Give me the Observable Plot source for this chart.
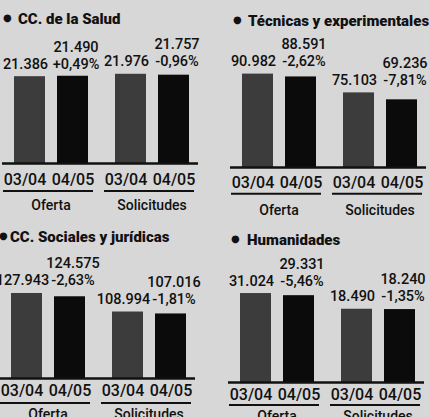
<!DOCTYPE html>
<html><head><meta charset="utf-8">
<script src="https://cdn.jsdelivr.net/npm/d3@7"></script>
<script src="https://cdn.jsdelivr.net/npm/@observablehq/plot@0.6"></script>
<style>
html,body{margin:0;padding:0;background:#d7d7d7;}
#wrap{position:relative;width:430px;height:417px;overflow:hidden;background:#d7d7d7;}
.panel{position:absolute;}
.title{position:absolute;font-family:Roboto,sans-serif;font-weight:900;font-size:15px;line-height:15px;color:#111;white-space:nowrap;}
.bullet{position:absolute;font-family:"DejaVu Sans",sans-serif;font-size:10px;line-height:10px;color:#111;}
</style></head><body><div id="wrap"></div>
<script>
// ---- data ----
const areas = ["CC. de la Salud", "Técnicas y experimentales", "CC. Sociales y jurídicas", "Humanidades"];
const groups = ["Oferta", "Solicitudes"];
const periods = ["03/04", "04/05"];
const oferta0304 = [21386, 90982, 127943, 31024];
const oferta0405 = [21490, 88591, 124575, 29331];
const solicitudes0304 = [21976, 75103, 108994, 18490];
const solicitudes0405 = [21757, 69236, 107016, 18240];
const pctOferta = [0.49, -2.62, -2.63, -5.46];
const pctSolicitudes = [-0.96, -7.81, -1.81, -1.35];

// ---- layout (per panel) ----
const panels = [
  {left:0,   top:0,   height:208, mL:13, mB:45, lo:0,      hi:30300,  tickDy:21, underDy:27.5, groupDy:46, titleX:18, titleBase:24.5, bulletX:3},
  {left:215, top:0,   height:208, mL:26, mB:41, lo:12000,  hi:119400, tickDy:20, underDy:26.3, groupDy:47.5, titleX:33, titleBase:27, bulletX:18},
  {left:0,   top:210, height:207, mL:10, mB:39, lo:41000,  hi:171900, tickDy:17.5, underDy:24.4, groupDy:40, titleX:10, titleBase:33, bulletX:-1},
  {left:215, top:210, height:207, mL:24, mB:35, lo:-40000, hi:65400,  tickDy:17.6, underDy:22.6, groupDy:38.5, titleX:32, titleBase:36, bulletX:16}
];

const locale = d3.formatLocale({decimal: ",", thousands: ".", grouping: [3], currency: ["", ""], minus: "-"});
const fmtN = locale.format(",");
const fmtP = locale.format("+.2f");

const wrap = document.getElementById("wrap");
const font = "Roboto, sans-serif";
const ink = "#111";

panels.forEach((P, i) => {
  const vals = {Oferta: [oferta0304[i], oferta0405[i]], Solicitudes: [solicitudes0304[i], solicitudes0405[i]]};
  const pcts = {Oferta: pctOferta[i], Solicitudes: pctSolicitudes[i]};
  const rows = [];
  groups.forEach(g => periods.forEach((p, j) => rows.push({group: g, period: p, value: vals[g][j], ref: vals[g][0], pct: j === 1 ? pcts[g] : null})));
  const first = rows.filter(d => d.period === periods[0]);
  const second = rows.filter(d => d.period === periods[1]);
  const groupRows = groups.map(g => ({group: g}));
  const lo = P.lo;
  const W = 215;
  const mR = W - P.mL - 176;
  const tw = 500;

  const chart = Plot.plot({
    width: W, height: P.height,
    marginLeft: P.mL, marginRight: mR, marginTop: 40, marginBottom: P.mB,
    style: {background: "transparent", overflow: "visible", fontFamily: font, color: ink},
    fx: {domain: groups, axis: null, paddingInner: 0.26, paddingOuter: 0},
    x: {domain: periods, axis: null, paddingInner: 0.28, paddingOuter: 0},
    y: {domain: [lo, P.hi], axis: null},
    color: {domain: periods, range: ["#3c3c3c", "#0b0b0b"]},
    marks: [
      Plot.barY(rows, {fx: "group", x: "period", y1: () => lo, y2: "value", fill: "period"}),
      Plot.ruleY(groupRows.filter(d => d.group === groups[0]), {fx: "group", y: () => lo, stroke: ink, strokeWidth: 2.5, insetLeft: -11, insetRight: -13}),
      Plot.ruleY(groupRows.filter(d => d.group === groups[1]), {fx: "group", y: () => lo, stroke: ink, strokeWidth: 2.5, insetLeft: -13, insetRight: -9}),
      Plot.text(first, {fx: "group", x: "period", y: "ref", text: d => fmtN(d.value), dy: -8, dx: -4.5, lineAnchor: "bottom", fontSize: 14.5, fontWeight: tw, fill: ink}),
      Plot.text(second, {fx: "group", x: "period", y: "ref", text: d => fmtN(d.value), dy: -25, dx: 3, lineAnchor: "bottom", fontSize: 14.5, fontWeight: tw, fill: ink}),
      Plot.text(second, {fx: "group", x: "period", y: "ref", text: d => fmtP(d.pct) + "%", dy: -8, dx: 3, lineAnchor: "bottom", fontSize: 14.5, fontWeight: tw, fill: ink}),
      Plot.text(first, {fx: "group", x: "period", y: () => lo, text: "period", dy: P.tickDy, dx: -5, lineAnchor: "bottom", fontSize: 16, fontWeight: tw, fill: ink}),
      Plot.text(second, {fx: "group", x: "period", y: () => lo, text: "period", dy: P.tickDy, dx: 0, lineAnchor: "bottom", fontSize: 16, fontWeight: tw, fill: ink}),
      Plot.ruleY(groupRows, {fx: "group", y: () => lo, dy: P.underDy, stroke: ink, strokeWidth: 2, insetLeft: -10, insetRight: -5}),
      Plot.text(groupRows, {fx: "group", text: "group", frameAnchor: "bottom", dy: P.groupDy, lineAnchor: "bottom", fontSize: 14, fontWeight: tw, fill: ink})
    ]
  });
  const div = document.createElement("div");
  div.className = "panel";
  div.style.left = P.left + "px";
  div.style.top = P.top + "px";
  div.appendChild(chart);
  wrap.appendChild(div);

  const b = document.createElement("div");
  b.className = "bullet";
  b.textContent = "●";
  b.style.left = (P.left + P.bulletX) + "px";
  b.style.top = (P.top + P.titleBase - 12) + "px";
  wrap.appendChild(b);

  const t = document.createElement("div");
  t.className = "title";
  t.textContent = areas[i];
  t.style.left = (P.left + P.titleX) + "px";
  t.style.top = (P.top + P.titleBase - 12.6) + "px";
  wrap.appendChild(t);
});
</script></body></html>
